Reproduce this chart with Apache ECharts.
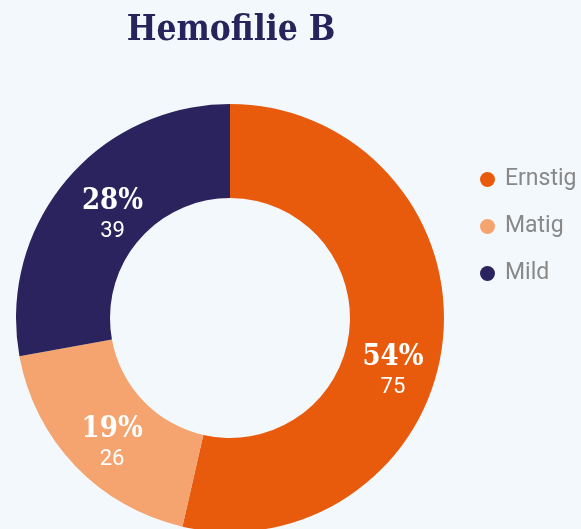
<!DOCTYPE html>
<html>
<head>
<meta charset="utf-8">
<script src="https://cdn.jsdelivr.net/npm/echarts@6/dist/echarts.min.js"></script>
<style>
html, body { margin: 0; padding: 0; background: #f3f8fc; }
#chart { width: 581px; height: 529px; }
</style>
</head>
<body>
<div id="chart"></div>
<script>
var categories = ['Ernstig', 'Matig', 'Mild'];
var values = [75, 26, 39];
var colors = ['#e95b0c', '#f5a36f', '#2a235d'];
// nudges so the labels sit where the original put them
var labelOffsets = [[-6, 34], [5, 8], [13, 6]];

var data = categories.map(function (name, i) {
    return {
        name: name,
        value: values[i],
        itemStyle: { color: colors[i] },
        label: { offset: labelOffsets[i] }
    };
});

var slab = '"DejaVu Serif Condensed", "DejaVu Serif", serif';

var myChart = echarts.init(document.getElementById('chart'));
var option = {
    backgroundColor: '#f3f8fc',
    title: {
        text: 'Hemofilie B',
        left: 226,
        textAlign: 'center',
        top: 8,
        textStyle: {
            fontFamily: slab,
            fontWeight: 'bold',
            fontSize: 35,
            color: '#29235c'
        }
    },
    legend: {
        orient: 'vertical',
        left: 475,
        top: 163,
        itemGap: 24,
        icon: 'circle',
        itemWidth: 15,
        itemHeight: 15,
        textStyle: {
            fontFamily: 'Roboto',
            fontSize: 23,
            color: '#888888',
            padding: [0, 0, 0, 5]
        }
    },
    series: [
        {
            type: 'pie',
            center: [230, 318],
            radius: [120, 214],
            startAngle: 90,
            clockwise: true,
            avoidLabelOverlap: false,
            label: {
                show: true,
                position: 'inside',
                formatter: function (p) {
                    return '{p|' + Math.round(p.percent) + '%}\n{v|' + p.value + '}';
                },
                rich: {
                    p: {
                        fontFamily: slab,
                        fontWeight: 'bold',
                        fontSize: 29,
                        color: '#ffffff',
                        lineHeight: 32
                    },
                    v: {
                        fontFamily: 'Roboto',
                        fontSize: 22,
                        color: '#ffffff',
                        lineHeight: 28
                    }
                }
            },
            labelLine: { show: false },
            emphasis: { disabled: true },
            data: data
        }
    ]
};
myChart.setOption(option);
</script>
</body>
</html>
